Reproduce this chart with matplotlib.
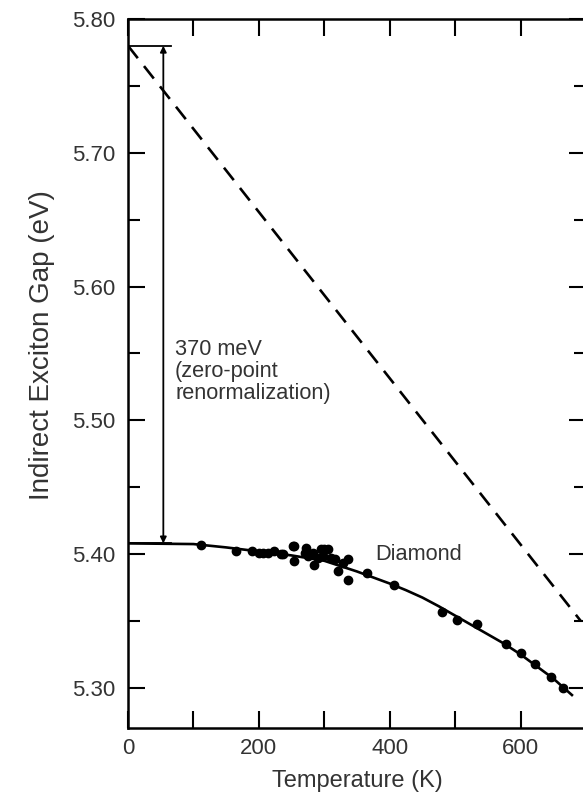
import matplotlib
matplotlib.use("Agg")
import matplotlib.pyplot as plt
from matplotlib.ticker import MultipleLocator, FormatStrFormatter

plt.rcParams['font.family'] = ['Liberation Sans', 'DejaVu Sans']

# Measured data points (Temperature K, gap eV)
temp_pts = [111, 165, 190, 200, 207, 214, 223, 234, 237, 252, 254, 254,
            270, 272, 275, 283, 285, 290, 295, 298, 300, 306, 311, 316,
            321, 329, 336, 337, 365, 406, 480, 503, 534, 577, 600, 622,
            646, 665]
gap_pts = [5.407, 5.402, 5.402, 5.401, 5.401, 5.401, 5.402, 5.400, 5.400,
           5.406, 5.395, 5.406, 5.401, 5.4045, 5.3985, 5.401, 5.392, 5.397,
           5.404, 5.3985, 5.404, 5.404, 5.397, 5.396, 5.387, 5.393, 5.381,
           5.396, 5.386, 5.377, 5.357, 5.351, 5.348, 5.333, 5.326, 5.318,
           5.308, 5.300]

# Fitted curve
fit_T = [0, 100, 150, 200, 250, 300, 350, 400, 425, 450, 475, 500, 525,
         550, 575, 600, 625, 650, 680]
fit_E = [5.408, 5.4075, 5.405, 5.402, 5.399, 5.395, 5.387, 5.378, 5.373,
         5.3675, 5.361, 5.354, 5.347, 5.340, 5.333, 5.325, 5.316, 5.307,
         5.294]

# Dashed extrapolation (no zero-point renormalization)
dash_T = [0, 692]
dash_E = [5.780, 5.350]

# Zero-point renormalization marker
zp_T = 54
zp_top = 5.780
zp_bottom = 5.408
zp_bar_T = [0, 66]

fig = plt.figure(figsize=(5.83, 7.95), dpi=100)
ax = fig.add_axes([128/583, 1 - 728/795, (586 - 128)/583, (728 - 19)/795])

ax.plot(dash_T, dash_E, color='black', lw=1.9, dashes=(6, 3.8))
ax.plot(fit_T, fit_E, color='black', lw=1.9, solid_capstyle='butt')
ax.plot(temp_pts, gap_pts, 'o', color='black', ms=6, mec='black')

ax.plot(zp_bar_T, [zp_top, zp_top], color='black', lw=1.3)
ax.plot(zp_bar_T, [zp_bottom, zp_bottom], color='black', lw=1.3)
ax.annotate('', xy=(zp_T, zp_top), xytext=(zp_T, zp_bottom),
            arrowprops=dict(arrowstyle='<|-|>', color='black', lw=1.3,
                            mutation_scale=9, shrinkA=0, shrinkB=0))

ax.text(72, 5.561, '370 meV\n(zero-point\nrenormalization)', fontsize=15.7,
        color='#333333', va='top', ha='left', linespacing=1.08)
ax.text(378, 5.400, 'Diamond', fontsize=15.7, color='#333333',
        va='center', ha='left')

ax.set_xlim(0, 700)
ax.set_ylim(5.27, 5.80)
ax.xaxis.set_major_locator(MultipleLocator(200))
ax.xaxis.set_minor_locator(MultipleLocator(100))
ax.yaxis.set_major_locator(MultipleLocator(0.10))
ax.yaxis.set_minor_locator(MultipleLocator(0.05))
ax.yaxis.set_major_formatter(FormatStrFormatter('%.2f'))

ax.tick_params(which='both', direction='in', top=True, right=True,
               width=1.5, colors='black', labelcolor='#333333',
               labelsize=16)
ax.tick_params(axis='x', which='both', length=12, pad=7)
ax.tick_params(axis='y', which='major', length=12, pad=9)
ax.tick_params(axis='y', which='minor', length=8.5)
for s in ax.spines.values():
    s.set_linewidth(1.8)

ax.set_xlabel('Temperature (K)', fontsize=17, color='#333333', labelpad=8)
ax.set_ylabel('Indirect Exciton Gap (eV)', fontsize=20, color='#333333')
ax.yaxis.set_label_coords(-0.16, 0.54)

fig.savefig('out.png', dpi=100)
